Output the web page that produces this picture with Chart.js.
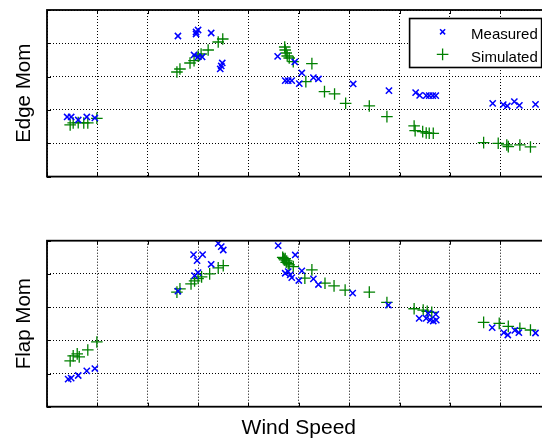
<!DOCTYPE html>
<html>
<head>
<meta charset="utf-8">
<script src="https://cdn.jsdelivr.net/npm/chart.js@4.4.1/dist/chart.umd.min.js"></script>
<style>
    html, body { margin: 0; padding: 0; background: #fff; overflow: hidden; }
    #wrap { position: relative; width: 542px; height: 441px; overflow: hidden; }
    canvas { position: absolute; left: 0; }
    #chart-edge { top: 0; }
    #chart-flap { top: 200px; }
</style>
</head>
<body>
<div id="wrap">
    <canvas id="chart-edge" width="560" height="200"></canvas>
    <canvas id="chart-flap" width="560" height="241"></canvas>
</div>
<script>
'use strict'

// --------------------------------------------
// DONNEES
// --------------------------------------------
const WIND_MIN = 0, WIND_MAX = 10 ;
const MOM_MIN = 0, MOM_MAX = 5 ;

const edgeMeasWind = [0.40, 0.48, 0.62, 0.79, 0.95,
    2.60, 2.96, 3.00, 2.96, 3.26, 2.92, 3.00, 3.08, 3.48, 3.46, 3.44,
    4.58, 4.92, 5.06, 4.73, 4.79, 4.86, 5.01, 5.29, 5.39, 6.08, 6.79,
    7.32, 7.40, 7.53, 7.59, 7.66, 7.72,
    8.85, 9.06, 9.14, 9.28, 9.38, 9.70] ;
const edgeMeasMom = [1.79, 1.79, 1.70, 1.79, 1.76,
    4.22, 4.34, 4.40, 4.28, 4.31, 3.65, 3.59, 3.59, 3.41, 3.32, 3.23,
    3.61, 3.44, 3.11, 2.88, 2.88, 2.88, 2.79, 2.97, 2.93, 2.78, 2.58,
    2.52, 2.44, 2.43, 2.43, 2.43, 2.43,
    2.20, 2.16, 2.12, 2.25, 2.14, 2.17] ;

const edgeSimWind = [0.46, 0.52, 0.62, 0.73, 0.81, 0.99,
    2.58, 2.64, 2.84, 2.92, 3.00, 3.06, 3.20, 3.40, 3.49,
    4.72, 4.73, 4.75, 4.77, 4.81, 4.89, 5.26, 5.14, 5.51, 5.71, 5.93, 6.40, 6.75,
    7.29, 7.31, 7.46, 7.53, 7.59, 7.67,
    8.67, 8.96, 9.13, 9.16, 9.39, 9.60] ;
const edgeSimMom = [1.55, 1.61, 1.62, 1.61, 1.61, 1.75,
    3.14, 3.23, 3.41, 3.48, 3.62, 3.68, 3.80, 4.04, 4.13,
    3.89, 3.80, 3.71, 3.62, 3.56, 3.45, 3.39, 2.85, 2.55, 2.48, 2.20, 2.12, 1.80,
    1.52, 1.38, 1.35, 1.31, 1.30, 1.30,
    1.02, 1.00, 0.95, 0.90, 0.95, 0.89] ;

const flapMeasWind = [0.42, 0.48, 0.62, 0.79, 0.95,
    2.60, 2.91, 2.98, 3.09, 3.26, 2.93, 3.00, 3.40, 3.46, 3.50,
    4.59, 4.93, 4.73, 4.79, 4.83, 4.86, 5.00, 5.06, 5.29, 5.39, 6.07, 6.78,
    7.39, 7.53, 7.57, 7.61, 7.67, 7.72, 7.73,
    8.84, 9.07, 9.15, 9.29, 9.37, 9.70] ;
const flapMeasMom = [0.83, 0.86, 0.94, 1.08, 1.15,
    3.48, 4.58, 4.40, 4.58, 4.29, 3.95, 4.04, 4.92, 4.82, 4.72,
    4.85, 4.57, 4.02, 4.07, 3.97, 3.89, 3.80, 4.09, 3.85, 3.68, 3.42, 3.06,
    2.66, 2.66, 2.81, 2.61, 2.58, 2.78, 2.61,
    2.38, 2.23, 2.16, 2.30, 2.23, 2.22] ;

const flapSimWind = [0.46, 0.52, 0.60, 0.64, 0.81, 0.99,
    2.58, 2.64, 2.86, 2.93, 3.00, 3.07, 3.23, 3.40, 3.50,
    4.68, 4.70, 4.72, 4.73, 4.75, 4.76, 4.79, 4.81, 4.89, 5.26, 5.12, 5.52, 5.70, 5.92, 6.40, 6.75,
    7.29, 7.47, 7.55, 7.64,
    8.67, 8.98, 9.16, 9.39, 9.60] ;
const flapSimMom = [1.38, 1.53, 1.59, 1.50, 1.71, 1.95,
    3.45, 3.55, 3.70, 3.79, 3.86, 3.91, 4.00, 4.18, 4.25,
    4.50, 4.46, 4.42, 4.46, 4.35, 4.39, 4.31, 4.27, 4.22, 4.12, 3.87, 3.72, 3.64, 3.51, 3.45, 3.14,
    2.95, 2.91, 2.87, 2.84,
    2.54, 2.51, 2.42, 2.36, 2.31] ;

const FONT = '"Liberation Sans", Arial, Helvetica, sans-serif' ;
const BLUE = '#0000ff', GREEN = '#008000' ;

const toPoints = (xs, ys) => xs.map((x, i) => ({ x, y: ys[i] })) ;


// --------------------------------------------
// PLUGIN : cadre des axes + petites graduations
// --------------------------------------------
const axesFrame = {
    id: 'axesFrame',
    afterDatasetsDraw(chart) {
        const { ctx, chartArea: a, scales } = chart ;
        ctx.save() ;
        ctx.strokeStyle = '#000' ;
        ctx.lineWidth = 1 ;
        ctx.beginPath() ;
        scales.x.ticks.forEach(t => {
            const px = Math.round(scales.x.getPixelForValue(t.value)) + 0.5 ;
            ctx.moveTo(px, a.bottom) ; ctx.lineTo(px, a.bottom - 4) ;
            ctx.moveTo(px, a.top) ;    ctx.lineTo(px, a.top + 4) ;
        }) ;
        scales.y.ticks.forEach(t => {
            const py = Math.round(scales.y.getPixelForValue(t.value)) + 0.5 ;
            ctx.moveTo(a.left, py) ; ctx.lineTo(a.left + 4, py) ;
            ctx.moveTo(a.right, py) ; ctx.lineTo(a.right - 4, py) ;
        }) ;
        ctx.stroke() ;
        ctx.lineWidth = 1.8 ;
        ctx.strokeRect(a.left, a.top, a.right - a.left, a.bottom - a.top) ;
        ctx.restore() ;
    }
} ;


// --------------------------------------------
// PLUGIN : legende dans le coin haut droit
// --------------------------------------------
const legendBox = {
    id: 'legendBox',
    afterDraw(chart) {
        const { ctx, chartArea: a } = chart ;
        const w = 132, h = 49 ;
        const x0 = a.right - 141, y0 = a.top + 8.5 ;
        ctx.save() ;
        ctx.fillStyle = '#fff' ;
        ctx.fillRect(x0, y0, w, h) ;
        ctx.strokeStyle = '#000' ;
        ctx.lineWidth = 1.6 ;
        ctx.strokeRect(x0, y0, w, h) ;

        chart.data.datasets.forEach((ds, i) => {
            const cx = x0 + 33, cy = y0 + 13.3 + i * 22.6 ;
            const r = ds.pointStyle === 'cross' ? 5.8 : 3.6 ;
            ctx.strokeStyle = ds.pointBorderColor ;
            ctx.lineWidth = ds.pointBorderWidth ;
            ctx.beginPath() ;
            if (ds.pointStyle === 'cross') {
                ctx.moveTo(cx - r, cy) ; ctx.lineTo(cx + r, cy) ;
                ctx.moveTo(cx, cy - r) ; ctx.lineTo(cx, cy + r) ;
            } else {
                const d = r * Math.SQRT1_2 ;
                ctx.moveTo(cx - d, cy - d) ; ctx.lineTo(cx + d, cy + d) ;
                ctx.moveTo(cx - d, cy + d) ; ctx.lineTo(cx + d, cy - d) ;
            }
            ctx.stroke() ;

            ctx.fillStyle = '#000' ;
            ctx.font = '15px ' + FONT ;
            ctx.textBaseline = 'alphabetic' ;
            ctx.fillText(ds.label, x0 + 61.5, cy + 7.6) ;
        }) ;
        ctx.restore() ;
    }
} ;


// --------------------------------------------
// CONSTRUCTION D'UN SOUS-GRAPHIQUE
// --------------------------------------------
function renderPanel(id, measX, measY, simX, simY, opts) {
    const ctx = document.getElementById(id) ;
    if (!ctx) return ;

    const gridOpts = { color: '#000', lineWidth: 1, drawTicks: false } ;
    const borderOpts = { display: false, dash: [1, 2] } ;

    new Chart(ctx, {
        type: 'scatter',
        data: {
            datasets: [{
                label: 'Measured',
                data: toPoints(measX, measY),
                pointStyle: 'crossRot',
                pointRadius: 4.4,
                pointBorderWidth: 1.5,
                pointBorderColor: BLUE,
                pointBackgroundColor: BLUE,
            }, {
                label: 'Simulated',
                data: toPoints(simX, simY),
                pointStyle: 'cross',
                pointRadius: 5.8,
                pointBorderWidth: 1.3,
                pointBorderColor: GREEN,
                pointBackgroundColor: GREEN,
            }]
        },
        options: {
            responsive: false,
            animation: false,
            events: [],
            layout: { padding: { top: opts.top, right: 9.4, left: 0, bottom: 0 } },
            plugins: {
                legend: { display: false },
                tooltip: { enabled: false },
            },
            scales: {
                x: {
                    type: 'linear',
                    min: WIND_MIN, max: WIND_MAX,
                    ticks: { display: false, stepSize: 1 },
                    grid: gridOpts,
                    border: borderOpts,
                    title: {
                        display: !!opts.xTitle,
                        text: opts.xTitle || '',
                        color: '#000',
                        font: { size: 21, family: FONT },
                        padding: { top: 0, bottom: 0 },
                    },
                    afterFit: scale => { scale.height = opts.xHeight ; },
                },
                y: {
                    type: 'linear',
                    min: MOM_MIN, max: MOM_MAX,
                    ticks: { display: false, stepSize: 1 },
                    grid: gridOpts,
                    border: borderOpts,
                    title: {
                        display: true,
                        text: opts.yTitle,
                        color: '#000',
                        font: { size: 20.5, family: FONT },
                        padding: { top: 12, bottom: 0 },
                    },
                    afterFit: scale => { scale.width = 47 ; },
                }
            }
        },
        plugins: opts.legend ? [axesFrame, legendBox] : [axesFrame]
    }) ;
}

renderPanel('chart-edge', edgeMeasWind, edgeMeasMom, edgeSimWind, edgeSimMom,
    { yTitle: 'Edge Mom', top: 10, xHeight: 23.4, legend: true }) ;
renderPanel('chart-flap', flapMeasWind, flapMeasMom, flapSimWind, flapSimMom,
    { yTitle: 'Flap Mom', xTitle: 'Wind Speed', top: 40.7, xHeight: 34.3, legend: false }) ;
</script>
</body>
</html>
